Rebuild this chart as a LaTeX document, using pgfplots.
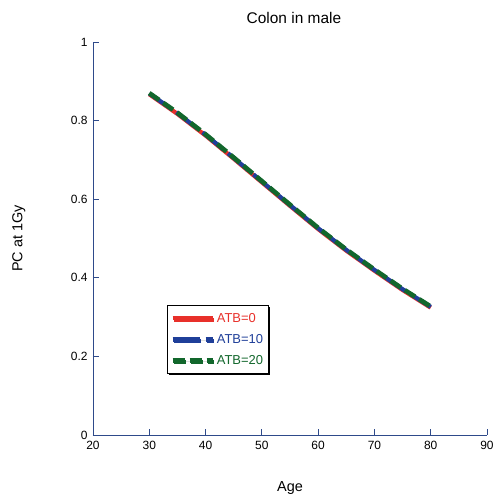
\documentclass[border=0pt]{standalone}
\usepackage{pgfplots}
\pgfplotsset{compat=1.18}
\usepackage{fontspec}
\setmainfont{Liberation Sans}
\usetikzlibrary{shadows}
\definecolor{axblue}{HTML}{2E4A8A}
\definecolor{cred}{HTML}{E8302A}
\definecolor{cblue}{HTML}{1F3F99}
\definecolor{cgreen}{HTML}{12672C}
\begin{document}
\begin{tikzpicture}
\begin{axis}[
  scale only axis,
  width=394bp, height=393bp,
  xmin=20, xmax=90, ymin=0, ymax=1,
  axis lines=left,
  axis line style={-, axblue, line width=0.9pt},
  every tick/.style={axblue, line width=0.9pt},
  major tick length=6bp,
  tick align=inside,
  xtick={20,30,...,90},
  ytick={0,0.2,...,1},
  yticklabels={0,0.2,0.4,0.6,0.8,1},
  /pgf/number format/assume math mode=true,
  tick label style={font=\fontsize{12}{14}\selectfont},
  xticklabel style={yshift=-3bp},
  yticklabel style={xshift=-2bp},
  title={Colon in male},
  title style={font=\fontsize{15.5}{18}\selectfont, at={(axis description cs:0.51,1.046)}, anchor=center, yshift=0pt},
  xlabel={Age},
  ylabel={PC at 1Gy},
  label style={font=\fontsize{14.5}{17}\selectfont},
  xlabel style={at={(axis description cs:0.5,-0.135)}, anchor=center},
  ylabel style={at={(axis description cs:-0.188,0.5)}, anchor=center},
  legend style={draw=black, fill=white, at={(0.188,0.331)}, anchor=north west,
    font=\fontsize{13}{15}\selectfont, row sep=6.5bp, inner xsep=3bp, inner ysep=6bp,
    drop shadow={shadow xshift=1.5pt, shadow yshift=-1.5pt, fill=black, opacity=1},
    cells={anchor=west}},
  legend image code/.code={\draw[#1] (0bp,0bp) -- (40bp,0bp);},
]
\coordinate (ll) at (rel axis cs:0,0);
\coordinate (ur) at (rel axis cs:1,1);
\addplot[cred, line width=4.2bp] coordinates {
(30,0.867) (35,0.817) (40,0.762) (45,0.703) (50,0.643) (55,0.583) (60,0.524) (65,0.469) (70,0.418) (75,0.369) (80,0.324)};
\addlegendentry{\textcolor{cred}{ATB=0}}
\addplot[cblue, line width=4.2bp, dash pattern=on 27bp off 6bp] coordinates {
(30,0.869) (35,0.819) (40,0.764) (45,0.705) (50,0.645) (55,0.585) (60,0.526) (65,0.471) (70,0.420) (75,0.371) (80,0.326)};
\addlegendentry{\textcolor{cblue}{ATB=10}}
\addplot[cgreen, line width=4.6bp, dash pattern=on 12bp off 5bp] coordinates {
(30,0.870) (35,0.820) (40,0.765) (45,0.706) (50,0.646) (55,0.586) (60,0.527) (65,0.472) (70,0.421) (75,0.372) (80,0.327)};
\addlegendentry{\textcolor{cgreen}{ATB=20}}
\end{axis}
\pgfresetboundingbox
\path (ll) ++(-93bp,-69bp) coordinate (a) (ur) ++(10bp,42bp) coordinate (b);
\useasboundingbox (a) rectangle (b);
\end{tikzpicture}
\end{document}
